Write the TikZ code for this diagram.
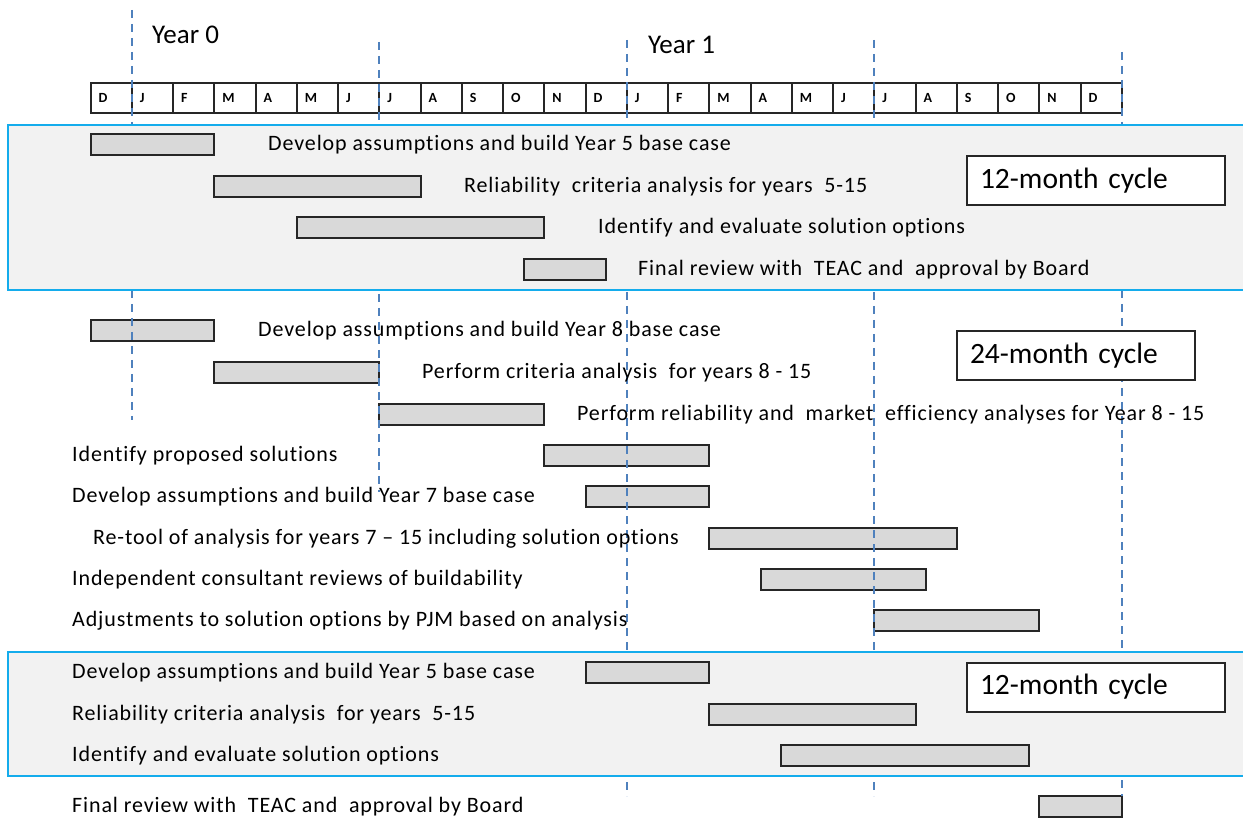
\documentclass[tikz,border=0pt]{standalone}
\usepackage{fontspec}
\setmainfont{Carlito}
\newfontfamily\taskfont[LetterSpace=4,Ligatures=NoCommon]{Carlito}
\definecolor{panelblue}{RGB}{20,172,236}
\definecolor{panelgray}{RGB}{242,242,242}
\definecolor{bargray}{RGB}{217,217,217}
\definecolor{dashblue}{RGB}{79,129,189}
\newcommand{\mx}[1]{90.5+41.25*#1}% month index -> x
\newcommand{\taskbar}[3]{\draw[barbox] ({\mx{#1}},#3) rectangle ({\mx{#2}},#3+21);}
\tikzset{
  barbox/.style={draw=black!85, fill=bargray, line width=2pt},
  panel/.style={draw=panelblue, fill=panelgray, line width=2pt},
  yearline/.style={draw=dashblue, line width=1.6pt, dash pattern=on 8pt off 6pt},
  task/.style={anchor=west, inner sep=0pt, font=\taskfont\fontsize{22}{22}\selectfont},
  yearlbl/.style={anchor=west, inner sep=0pt, font=\fontsize{27}{27}\selectfont},
  monthcell/.style={draw=black!85, line width=2pt, minimum width=41.25pt, minimum height=30pt,
    inner xsep=8pt, text width=25.25pt, align=left, font=\bfseries\fontsize{14}{14}\selectfont},
  cyclebox/.style={draw=black!85, fill=white, line width=2pt, minimum height=49pt,
    inner xsep=13pt, align=left, font=\fontsize{29.5}{29.5}\selectfont}
}
\begin{document}
\begin{tikzpicture}[x=1pt,y=-1pt]
  \useasboundingbox (0,0) rectangle (1243,818);

  % Jahre
  \node[yearlbl] (year0) at (152,35) {Year 0};
  \node[yearlbl] (year1) at (648,45) {Year 1};

  % Monate
  \foreach \mon [count=\i from 0] in {D,J,F,M,A,M,J,J,A,S,O,N,D,J,F,M,A,M,J,J,A,S,O,N,D}
    \node[monthcell] (month\i) at ({\mx{\i}+20.625},98) {\mon};

  % 24-Monats-Balken (unter den Linien)
  \taskbar{0}{3}{320}        % Year 8 base case
  \taskbar{3}{7}{362}        % criteria analysis
  \taskbar{7}{11}{404}       % reliability / market efficiency
  \taskbar{11}{15}{445}      % proposed solutions
  \taskbar{12}{15}{486}      % Year 7 base case
  \taskbar{15}{21}{528}      % Re-tool
  \taskbar{16.25}{20.25}{569} % consultant
  \taskbar{19}{23}{610}      % adjustments
  \taskbar{23}{25}{796}      % final review

  % Jahreslinien
  \draw[yearline] (131.75,10) -- (131.75,420);
  \draw[yearline] (379.25,42) -- (379.25,492);
  \draw[yearline] (626.75,40) -- (626.75,796);
  \draw[yearline] (874.25,40) -- (874.25,796);
  \draw[yearline] (1121.75,52) -- (1121.75,796);

  % Felder
  \draw[panel] (8,125) rectangle (1250,290);   % oben
  \draw[panel] (8,652) rectangle (1250,776);   % unten

  % 12-Monats-Balken oben
  \taskbar{0}{3}{134}
  \taskbar{3}{8}{176}
  \taskbar{5}{11}{217}
  \taskbar{10.5}{12.5}{259}
  % 12-Monats-Balken unten
  \taskbar{12}{15}{662}
  \taskbar{15}{20}{704}
  \taskbar{16.75}{22.75}{745}

  % Zyklen
  \node[cyclebox, minimum width=258pt, text width=232pt] (cycle12a) at (1096,180.5) {12-month cycle};
  \node[cyclebox, minimum width=238pt, text width=212pt] (cycle24) at (1076,356) {24-month cycle};
  \node[cyclebox, minimum width=258pt, text width=232pt] (cycle12b) at (1096,687) {12-month cycle};

  % Texte
  \node[task] (lab1)  at (268,145) {Develop assumptions and build Year 5 base case};
  \node[task] (lab2)  at (464,187) {Reliability\ \ criteria analysis for years\ \ 5-15};
  \node[task] (lab3)  at (598,228) {Identify and evaluate solution options};
  \node[task] (lab4)  at (638,270) {Final review with\ \ TEAC and\ \ approval by Board};
  \node[task] (lab5)  at (258,331) {Develop assumptions and build Year 8 base case};
  \node[task] (lab6)  at (422,373) {Perform criteria analysis\ \ for years 8 - 15};
  \node[task] (lab7)  at (577,415) {Perform reliability and\ \ market\ \ efficiency analyses for Year 8 - 15};
  \node[task] (lab8)  at (72,456)  {Identify proposed solutions};
  \node[task] (lab9)  at (72,497)  {Develop assumptions and build Year 7 base case};
  \node[task] (lab10) at (93,539)  {Re-tool of analysis for years 7 – 15 including solution options};
  \node[task] (lab11) at (72,580)  {Independent consultant reviews of buildability};
  \node[task] (lab12) at (72,621)  {Adjustments to solution options by PJM based on analysis};
  \node[task] (lab13) at (72,673)  {Develop assumptions and build Year 5 base case};
  \node[task] (lab14) at (72,715)  {Reliability criteria analysis\ \ for years\ \ 5-15};
  \node[task] (lab15) at (72,756)  {Identify and evaluate solution options};
  \node[task] (lab16) at (72,807)  {Final review with\ \ TEAC and\ \ approval by Board};
\end{tikzpicture}
\end{document}
